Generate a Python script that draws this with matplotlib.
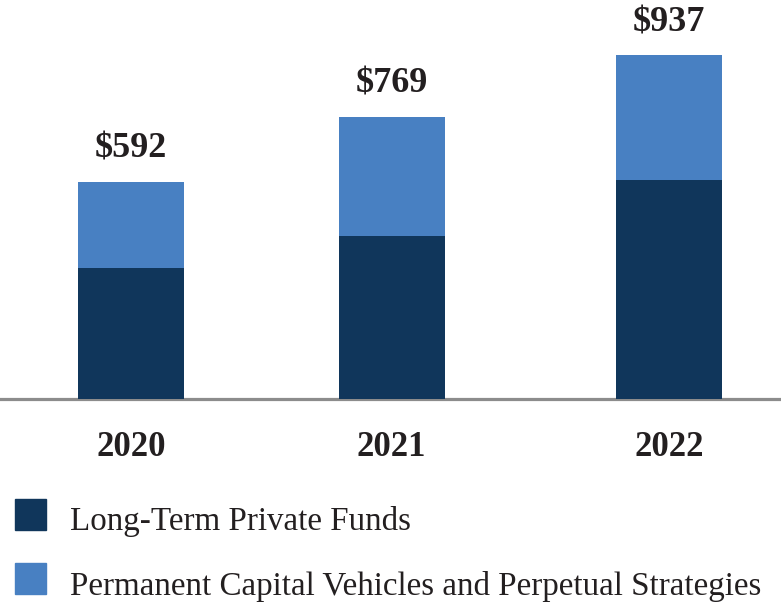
import matplotlib
matplotlib.use("Agg")
import matplotlib.pyplot as plt
from matplotlib.patches import Rectangle

years = ["2020", "2021", "2022"]
long_term = [357, 445, 597]
perpetual = [235, 324, 340]
totals = [592, 769, 937]
total_labels = ["$592", "$769", "$937"]
legend_labels = ["Long-Term Private Funds",
                 "Permanent Capital Vehicles and Perpetual Strategies"]

dark = "#10365b"
light = "#4880c2"
txt = "#231f20"

plt.rcParams['font.family'] = ['Liberation Serif', 'DejaVu Serif']

W, H = 781, 609
fig = plt.figure(figsize=(W / 100, H / 100), dpi=100)
base_y = 399
ax = fig.add_axes([0, (H - base_y) / H, 1, base_y / H])

x_pos = [0, 1, 2.065]
bar_w = 0.407
ax.bar(x_pos, long_term, width=bar_w, color=dark, zorder=2)
ax.bar(x_pos, perpetual, width=bar_w, bottom=long_term, color=light, zorder=2)

for x, t, lab in zip(x_pos, totals, total_labels):
    ax.annotate(lab, (x, t), xytext=(0, 17.5), textcoords='offset points',
                ha='center', va='baseline', fontsize=26, fontweight='bold',
                color=txt)

ax.set_xlim(-0.503, 2.495)
ax.set_ylim(0, 1088)
for s in ['top', 'right', 'left']:
    ax.spines[s].set_visible(False)
ax.spines['bottom'].set_color('#8c8c8c')
ax.spines['bottom'].set_linewidth(2.3)
ax.spines['bottom'].set_zorder(1)
ax.set_yticks([])
ax.set_xticks(x_pos)
ax.set_xticklabels(years, fontsize=25, fontweight='bold', color=txt)
ax.tick_params(axis='x', length=0, pad=23)

# legend
sq_tops = [499, 563]
text_y = [518, 583]
for top, ty, lab, col in zip(sq_tops, text_y, legend_labels, [dark, light]):
    fig.add_artist(Rectangle((15 / W, (H - top - 31) / H), 31 / W, 31 / H,
                             transform=fig.transFigure, color=col))
    fig.text(70 / W, (H - ty) / H, lab, fontsize=23.8, color=txt,
             ha='left', va='center_baseline')

fig.savefig("out.png", dpi=100)
